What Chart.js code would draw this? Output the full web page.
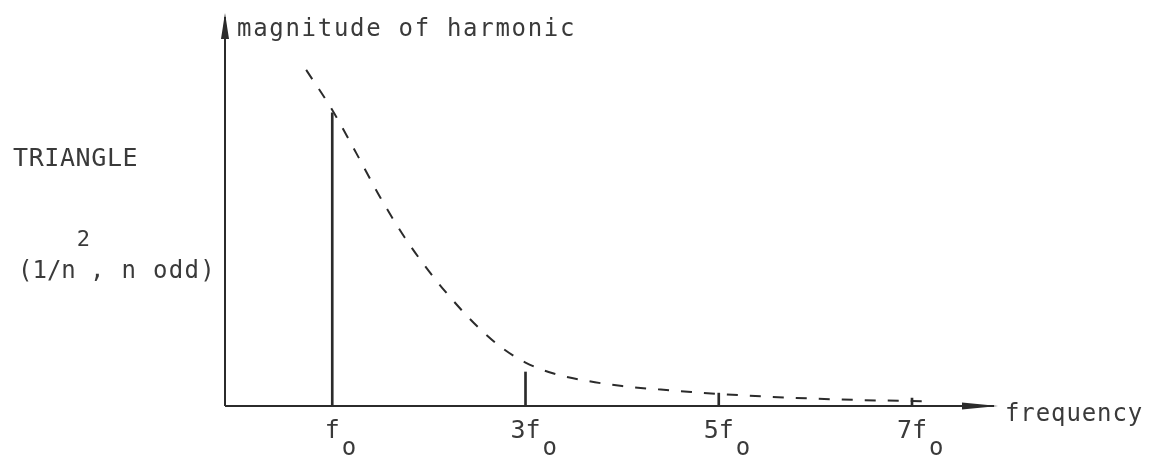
<!DOCTYPE html>
<html>
<head>
<meta charset="utf-8">
<script src="https://cdn.jsdelivr.net/npm/chart.js@4"></script>
<style>
  html, body { margin: 0; padding: 0; background: #fff; }
  canvas { display: block; }
</style>
</head>
<body>
<canvas id="spectrum" width="1151" height="457"></canvas>
<script>
// harmonic lines (n = 1, 3, 5, 7) and their heights, fundamental = 1
const harmonics = [1, 3, 5, 7];
const magnitudes = [1, 0.116, 0.044, 0.027];
const tickLabels = ['f', '3f', '5f', '7f'];
const tickSub = 'o';

// dashed envelope drawn over the line tops
const envelopeN = [0.73, 1.0, 1.25, 1.5, 1.75, 2.0, 2.25, 2.5, 2.75, 3.0, 3.3, 3.65, 4.0, 4.4, 4.75, 5.0, 5.5, 6.0, 6.5, 7.0, 7.19];
const envelopeMag = [1.147, 1.01, 0.862, 0.71, 0.575, 0.46, 0.36, 0.272, 0.2, 0.148, 0.11, 0.085, 0.068, 0.056, 0.047, 0.041, 0.032, 0.025, 0.02, 0.017, 0.016];

const ink = '#2b2b2b';
const textInk = '#3a3a3a';
const mono = 'DejaVu Sans Mono';

function drawText(ctx, str, x, y, size, spacing) {
    ctx.font = `${size}px "${mono}"`;
    ctx.letterSpacing = `${spacing || 0}px`;
    ctx.fillText(str, x, y);
    const w = ctx.measureText(str).width;
    ctx.letterSpacing = '0px';
    return w;
}

const axesPlugin = {
    id: 'sketchAxes',
    afterDraw(chart) {
        const ctx = chart.ctx;
        const area = chart.chartArea;
        const xs = chart.scales.x;
        const ys = chart.scales.y;
        const x0 = area.left;
        const y0 = ys.getPixelForValue(0);

        ctx.save();
        ctx.strokeStyle = ink;
        ctx.fillStyle = ink;
        ctx.lineWidth = 2;

        // vertical axis with arrow
        ctx.beginPath();
        ctx.moveTo(x0, y0);
        ctx.lineTo(x0, area.top + 4);
        ctx.stroke();
        ctx.beginPath();
        ctx.moveTo(x0, area.top);
        ctx.lineTo(x0 - 4, area.top + 26);
        ctx.lineTo(x0 + 4, area.top + 26);
        ctx.closePath();
        ctx.fill();

        // horizontal axis with arrow
        ctx.beginPath();
        ctx.moveTo(x0, y0);
        ctx.lineTo(area.right - 4, y0);
        ctx.stroke();
        ctx.beginPath();
        ctx.moveTo(area.right, y0);
        ctx.lineTo(area.right - 36, y0 - 3.5);
        ctx.lineTo(area.right - 36, y0 + 3.5);
        ctx.closePath();
        ctx.fill();

        // labels
        ctx.fillStyle = textInk;
        ctx.textBaseline = 'alphabetic';
        ctx.textAlign = 'left';
        drawText(ctx, 'magnitude of harmonic', x0 + 12, 36, 24, 1.7);
        drawText(ctx, 'frequency', area.right + 7, 421, 24, 0.9);
        drawText(ctx, 'TRIANGLE', 13, 166, 25, 0.6);

        let cx = 18;
        cx += drawText(ctx, '(1/n', cx, 278, 24, 0);
        cx += drawText(ctx, '2', cx + 1, 246, 22, 0) + 1;
        drawText(ctx, ', n odd)', cx, 278, 24, 1.3);

        // tick labels with subscript
        harmonics.forEach((n, i) => {
            const px = xs.getPixelForValue(n);
            ctx.font = `25px "${mono}"`;
            const w = ctx.measureText(tickLabels[i]).width;
            ctx.fillText(tickLabels[i], px - w / 2, 438);
            drawText(ctx, tickSub, px + w / 2 + 2, 455, 24, 0);
        });
        ctx.restore();
    }
};

new Chart(document.getElementById('spectrum'), {
    type: 'bar',
    data: {
        datasets: [
            {
                type: 'line',
                data: envelopeN.map((n, i) => ({ x: n, y: envelopeMag[i] })),
                borderColor: ink,
                borderWidth: 2,
                borderDash: [11, 12],
                pointRadius: 0,
                cubicInterpolationMode: 'monotone',
                fill: false
            },
            {
                type: 'bar',
                data: harmonics.map((n, i) => ({ x: n, y: magnitudes[i] })),
                backgroundColor: ink,
                barThickness: 2
            }
        ]
    },
    options: {
        responsive: false,
        animation: false,
        devicePixelRatio: 1,
        layout: { padding: { left: 225, right: 153, top: 13, bottom: 51 } },
        scales: {
            x: { type: 'linear', min: -0.11, max: 7.89, offset: false, display: false },
            y: { min: 0, max: 1.341, display: false }
        },
        plugins: {
            legend: { display: false },
            tooltip: { enabled: false }
        }
    },
    plugins: [axesPlugin]
});
</script>
</body>
</html>
